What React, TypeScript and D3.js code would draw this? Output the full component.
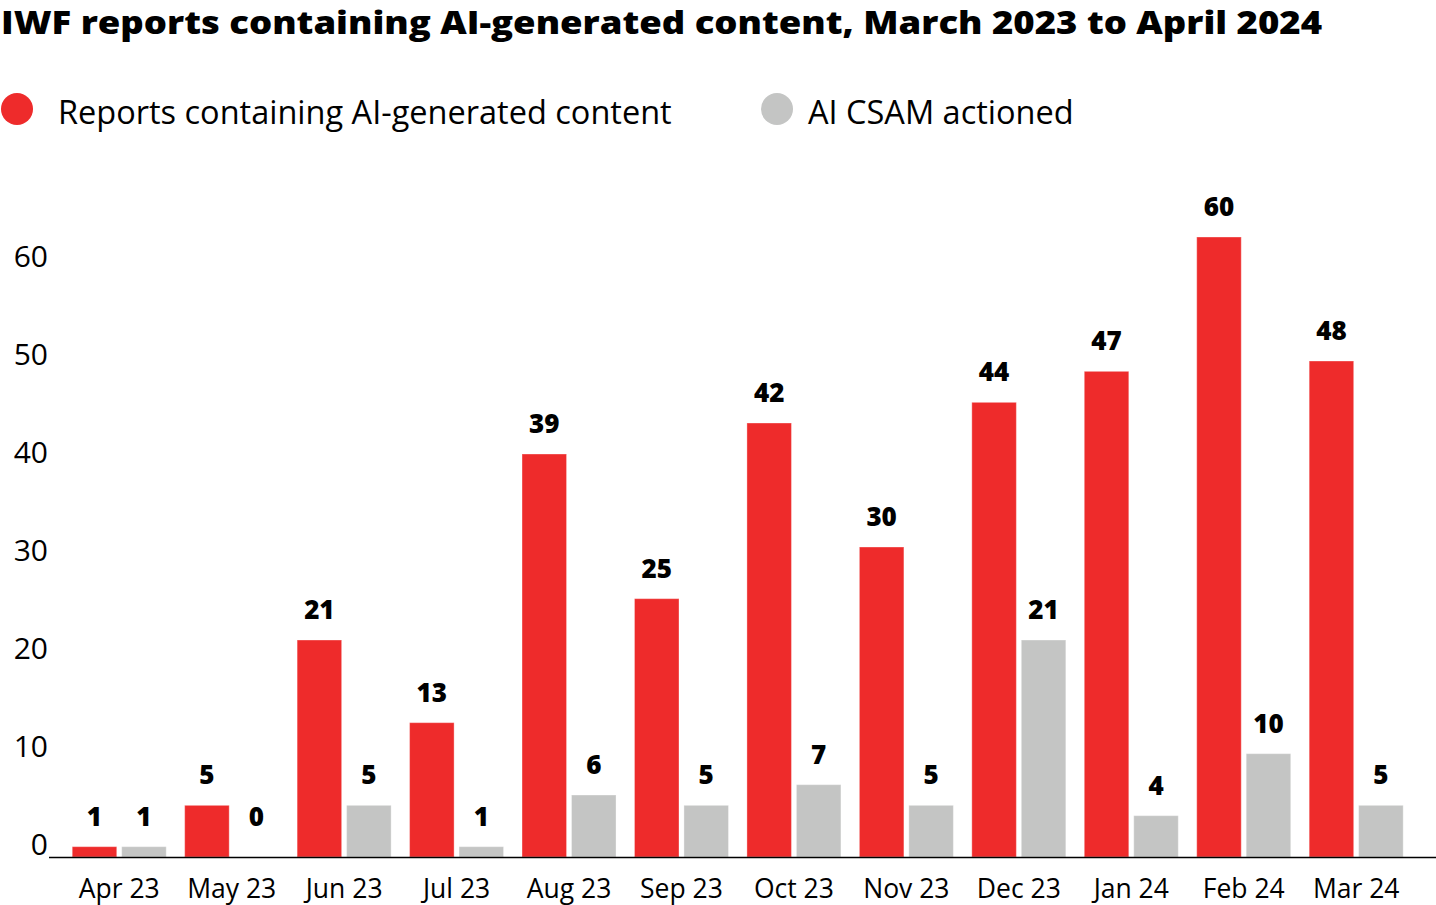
import { useRef, useEffect } from 'react';
import * as d3 from 'd3';

const months = ['Apr 23', 'May 23', 'Jun 23', 'Jul 23', 'Aug 23', 'Sep 23', 'Oct 23', 'Nov 23', 'Dec 23', 'Jan 24', 'Feb 24', 'Mar 24'];
const reports = [1, 5, 21, 13, 39, 25, 42, 30, 44, 47, 60, 48];
const actioned = [1, 0, 5, 1, 6, 5, 7, 5, 21, 4, 10, 5];
const yTicks = [0, 10, 20, 30, 40, 50, 60];
const seriesNames = ['Reports containing AI-generated content', 'AI CSAM actioned'];

const RED = '#ee2b2b';
const GREY = '#c4c5c4';
const FONT = '"Open Sans", "Noto Sans", sans-serif';

export default function App() {
    const svgRef = useRef<SVGSVGElement>(null);

    useEffect(() => {
        if (!svgRef.current) return;
        const width = 1436;
        const height = 905;
        const baseY = 857;

        const svg = d3.select(svgRef.current);
        svg.selectAll('*').remove();

        // Title
        svg.append('text')
            .attr('x', 1)
            .attr('y', 34)
            .attr('fill', '#000')
            .attr('textLength', 1321)
            .attr('lengthAdjust', 'spacingAndGlyphs')
            .style('font-family', FONT)
            .style('font-size', '31px')
            .style('font-weight', 800)
            .text('IWF reports containing AI-generated content, March 2023 to April 2024');

        // Legend
        const legendX = [17, 777];
        seriesNames.forEach((name, i) => {
            const item = svg.append('g').attr('transform', `translate(${legendX[i]}, 109)`);
            item.append('circle')
                .attr('r', 16)
                .attr('fill', i === 0 ? RED : GREY);
            item.append('text')
                .attr('x', i === 0 ? 41 : 31)
                .attr('y', 15)
                .attr('fill', '#000')
                .style('font-family', FONT)
                .style('font-size', '32.5px')
                .text(name);
        });

        // Scales
        const x0 = d3.scaleBand<string>()
            .domain(months)
            .range([63, 63 + 112.45 * 12])
            .paddingInner(0.164)
            .paddingOuter(0.082);

        const x1 = d3.scaleBand<number>()
            .domain([0, 1])
            .range([0, x0.bandwidth()])
            .paddingInner(0.1);

        // bars
        const yBar = d3.scaleLinear().domain([0, 60]).range([baseY, baseY - 620]);
        // tick labels sit on their own spacing in the original
        const yAxis = d3.scaleLinear().domain([0, 60]).range([855, 267]);

        // Y tick labels
        svg.append('g')
            .selectAll('text')
            .data(yTicks)
            .enter()
            .append('text')
            .attr('x', 48)
            .attr('y', d => yAxis(d))
            .attr('text-anchor', 'end')
            .attr('fill', '#000')
            .style('font-family', FONT)
            .style('font-size', '30px')
            .text(d => d);

        const groups = svg.append('g')
            .selectAll('g')
            .data(months)
            .enter()
            .append('g')
            .attr('transform', d => `translate(${x0(d)},0)`);

        [reports, actioned].forEach((series, s) => {
            groups.append('rect')
                .attr('x', x1(s)!)
                .attr('y', (_, i) => yBar(series[i]))
                .attr('width', x1.bandwidth())
                .attr('height', (_, i) => Math.max(baseY - yBar(series[i]), 0.8))
                .attr('fill', s === 0 ? RED : GREY)
                .attr('stroke', 'rgba(255,255,255,0.35)')
                .attr('stroke-width', 1);

            groups.append('text')
                .attr('x', x1(s)! + x1.bandwidth() / 2)
                .attr('y', (_, i) => Math.min(yBar(series[i]), yBar(1)) - 21)
                .attr('text-anchor', 'middle')
                .attr('fill', '#000')
                .style('font-family', FONT)
                .style('font-size', '26px')
                .style('font-weight', 800)
                .text((_, i) => series[i]);
        });

        // Month labels
        svg.append('g')
            .selectAll('text')
            .data(months)
            .enter()
            .append('text')
            .attr('x', d => x0(d)! + x0.bandwidth() / 2)
            .attr('y', 898)
            .attr('text-anchor', 'middle')
            .attr('fill', '#000')
            .style('font-family', FONT)
            .style('font-size', '26.5px')
            .text(d => d);

        // Baseline
        svg.append('line')
            .attr('x1', 49)
            .attr('x2', width)
            .attr('y1', baseY + 0.5)
            .attr('y2', baseY + 0.5)
            .attr('stroke', '#000')
            .attr('stroke-width', 1.5);

        svg.attr('width', width).attr('height', height);
    }, []);

    return (
        <div style={{ position: 'absolute', left: 0, top: 0, background: '#fff' }}>
            <svg ref={svgRef} style={{ display: 'block' }}></svg>
        </div>
    );
}
